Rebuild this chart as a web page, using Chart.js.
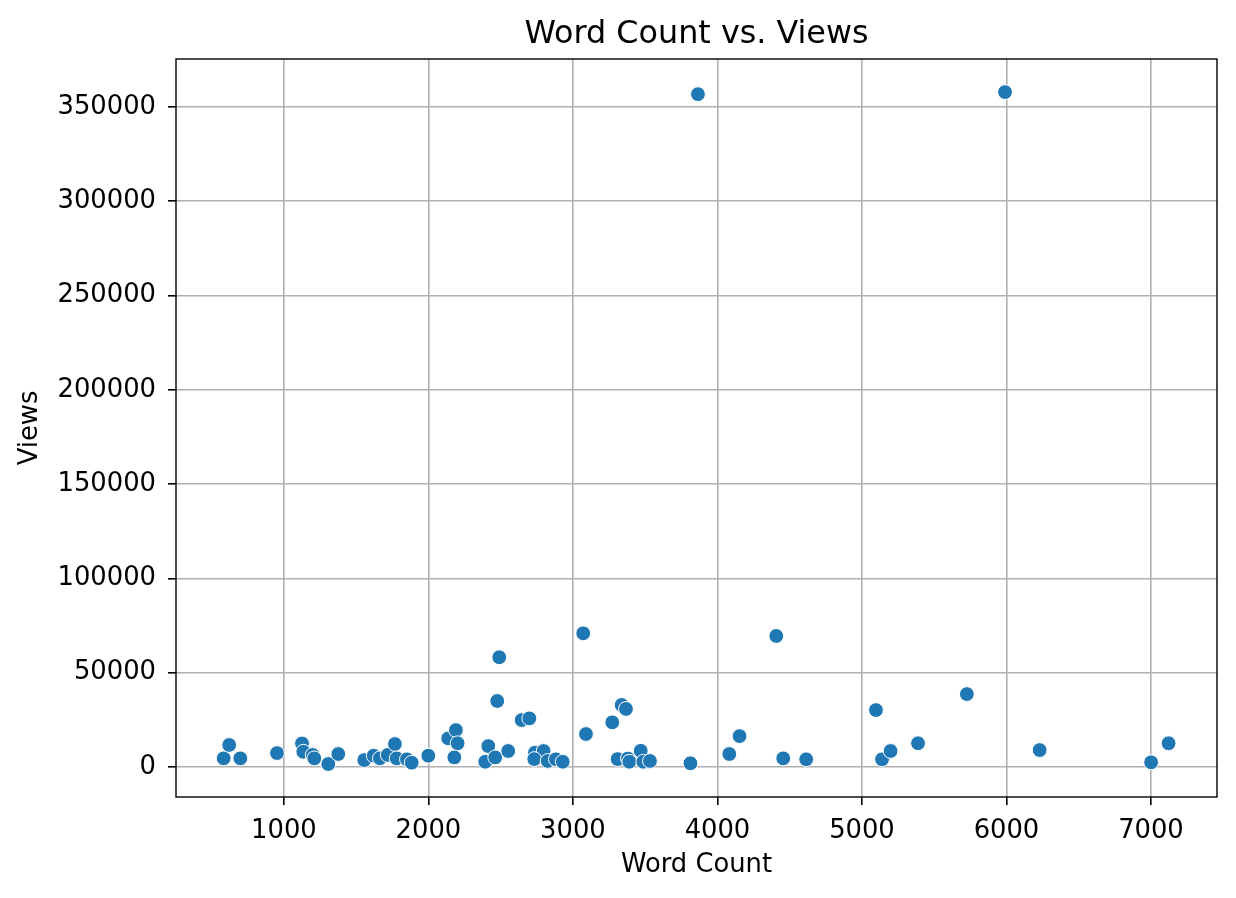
<!DOCTYPE html>
<html>
<head>
<meta charset="utf-8">
<script src="https://cdn.jsdelivr.net/npm/chart.js@4"></script>
<style>
  html, body { margin: 0; padding: 0; background: #fff; }
  canvas { display: block; }
</style>
</head>
<body>
<canvas id="scatterChart" width="1236" height="898"></canvas>
<script>
// values
const wordCount = [
  583, 621, 698, 952, 1125, 1134, 1199, 1210, 1307, 1376,
  1556, 1621, 1664, 1718, 1768, 1780, 1851, 1884, 1999, 2137,
  2190, 2202, 2179, 2393, 2414, 2462, 2476, 2490, 2552, 2645,
  2698, 2737, 2797, 2732, 2825, 2882, 2929, 3071, 3090, 3272,
  3309, 3337, 3367, 3380, 3390, 3469, 3487, 3533, 3813, 3865,
  4082, 4153, 4407, 4455, 4614, 5097, 5139, 5198, 5388, 5726,
  5990, 6230, 7001, 7122
];
const views = [
  4600, 11700, 4600, 7400, 12500, 8100, 6400, 4600, 1600, 6900,
  3700, 6000, 4600, 6400, 12200, 4600, 4100, 2300, 6000, 15200,
  19600, 12600, 5100, 2800, 11100, 5100, 35000, 58200, 8500, 24900,
  25800, 7600, 8500, 4200, 3200, 4100, 2800, 70900, 17500, 23700,
  4200, 32900, 30800, 4500, 2800, 8600, 2800, 3200, 2000, 356800,
  6900, 16400, 69500, 4600, 4100, 30200, 4100, 8500, 12600, 38700,
  357900, 9000, 2500, 12600
];
const xTicks = [1000, 2000, 3000, 4000, 5000, 6000, 7000];
const yTicks = [0, 50000, 100000, 150000, 200000, 250000, 300000, 350000];
const chartTitle = 'Word Count vs. Views';

const points = wordCount.map((w, i) => ({ x: w, y: views[i] }));

const tickFont = { family: "'DejaVu Sans', sans-serif", size: 25.8 };

// black frame round the plot area, like the matplotlib spines,
// and the title centred over the plot area (not the whole canvas)
const frame = {
  id: 'frame',
  afterDraw(chart) {
    const { ctx, chartArea: a } = chart;
    ctx.save();
    ctx.strokeStyle = '#000';
    ctx.lineWidth = 1.4;
    ctx.strokeRect(a.left, a.top, a.right - a.left, a.bottom - a.top);
    ctx.fillStyle = '#000';
    ctx.font = "31.8px 'DejaVu Sans', sans-serif";
    ctx.textAlign = 'center';
    ctx.textBaseline = 'alphabetic';
    ctx.fillText(chartTitle, (a.left + a.right) / 2, 43);
    ctx.restore();
  }
};

const ctx = document.getElementById('scatterChart').getContext('2d');
new Chart(ctx, {
  type: 'scatter',
  data: {
    datasets: [{
      label: 'Views',
      data: points,
      backgroundColor: '#1f77b4',
      borderColor: '#ffffff',
      borderWidth: 1,
      pointRadius: 7.4,
      pointHoverRadius: 7.4,
    }],
  },
  options: {
    responsive: false,
    animation: false,
    layout: { padding: { left: 11, right: 19, top: 59, bottom: 13 } },
    plugins: {
      legend: { display: false },
      tooltip: { enabled: false },
      title: { display: false },
    },
    scales: {
      x: {
        type: 'linear',
        min: 253,
        max: 7457,
        afterBuildTicks: (s) => { s.ticks = xTicks.map(v => ({ value: v })); },
        afterFit: (s) => { s.height = 88; },
        ticks: { color: '#000', font: tickFont, padding: 11, maxRotation: 0, callback: (v) => String(v) },
        grid: { color: '#b0b0b0', lineWidth: 1.6, tickColor: '#000', tickLength: 8 },
        border: { display: false },
        title: { display: true, text: 'Word Count', color: '#000', font: tickFont },
      },
      y: {
        type: 'linear',
        min: -15900,
        max: 375450,
        afterBuildTicks: (s) => { s.ticks = yTicks.map(v => ({ value: v })); },
        afterFit: (s) => { s.width = 165; },
        ticks: { color: '#000', font: tickFont, padding: 12, callback: (v) => String(v) },
        grid: { color: '#b0b0b0', lineWidth: 1.6, tickColor: '#000', tickLength: 8 },
        border: { display: false },
        title: { display: true, text: 'Views', color: '#000', font: tickFont },
      },
    },
  },
  plugins: [frame],
});
</script>
</body>
</html>
